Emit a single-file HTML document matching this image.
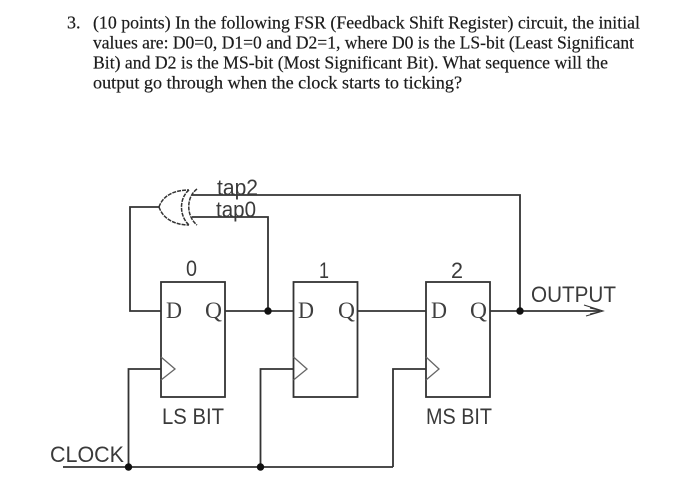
<!DOCTYPE html>
<html><head><meta charset="utf-8"><style>
html,body{margin:0;padding:0;background:#fff}
svg{display:block}
.q{font-family:"Liberation Serif",serif;font-size:18px;fill:#1c1c1c;stroke:#1c1c1c;stroke-width:.2}
.l{font-family:"Liberation Sans",sans-serif;font-size:22px;fill:#3a3a3a}
.s{font-family:"Liberation Serif",serif;font-size:23px;fill:#3f3f3f}
</style></head><body>
<svg width="700" height="482" viewBox="0 0 700 482" xmlns="http://www.w3.org/2000/svg">
<rect width="700" height="482" fill="#fff"/>
<text class="q" x="67" y="28.500">3.</text>
<text class="q" x="93" y="28.500" textLength="547" lengthAdjust="spacingAndGlyphs">(10 points) In the following FSR (Feedback Shift Register) circuit, the initial</text>
<text class="q" x="93" y="48.500" textLength="541" lengthAdjust="spacingAndGlyphs">values are: D0=0, D1=0 and D2=1, where D0 is the LS-bit (Least Significant</text>
<text class="q" x="93" y="68.500" textLength="515" lengthAdjust="spacingAndGlyphs">Bit) and D2 is the MS-bit (Most Significant Bit).  What sequence will the</text>
<text class="q" x="93" y="88.500" textLength="369" lengthAdjust="spacingAndGlyphs">output go through when the clock starts to ticking?</text>

<g fill="none" stroke="#333" stroke-width="1.800">
<rect x="161" y="282" width="64" height="115"/>
<rect x="293.500" y="282" width="64" height="115"/>
<rect x="426" y="282" width="64" height="115"/>
<path d="M161 357L175 369L161 380M293.500 357L307 369L293.500 380M426 357L439 369L426 380" stroke="#666" stroke-width="1.300"/>
<path d="M161 311H130V207H159"/>
<path d="M225 311H293.500M357.500 311H426M490 311H600"/>
<path d="M192 195H520V311M192 217H268V311"/>
<path d="M63 467H393M128.500 467V369H161M260.500 467V369H293.500M393 467V369H426"/>
<path d="M584 305L603 311L586 316M590 308L603 311L590 314" stroke-width="1.100"/>
<path d="M159 207C163 195 175 190 189 190M159 207C163 219 175 225 189 225" stroke-width="1.500" stroke-dasharray="4 1"/>
<path d="M189 190C179 198 179 216 189 225" stroke-width="1.500" stroke-dasharray="4 1"/>
<path d="M197 189C186 197 186 216 197 225" stroke-width="1.500" stroke-dasharray="4 1"/>
</g>
<g fill="#111">
<circle cx="268" cy="311" r="3.700"/>
<circle cx="520" cy="311" r="3.700"/>
<circle cx="128.500" cy="467" r="3.700"/>
<circle cx="260.500" cy="467" r="3.700"/>
</g>
<text class="l" x="217" y="195" textLength="41" lengthAdjust="spacingAndGlyphs">tap2</text>
<text class="l" x="216" y="217" textLength="40" lengthAdjust="spacingAndGlyphs">tap0</text>
<text class="l" x="186" y="276" textLength="11" lengthAdjust="spacingAndGlyphs">0</text>
<text class="l" x="319" y="278" textLength="10" lengthAdjust="spacingAndGlyphs">1</text>
<text class="l" x="451" y="278" textLength="12" lengthAdjust="spacingAndGlyphs">2</text>
<text class="s" x="166" y="318" textLength="16" lengthAdjust="spacingAndGlyphs">D</text>
<text class="s" x="205" y="318" textLength="17" lengthAdjust="spacingAndGlyphs">Q</text>
<text class="s" x="298" y="318" textLength="16" lengthAdjust="spacingAndGlyphs">D</text>
<text class="s" x="338" y="318" textLength="17" lengthAdjust="spacingAndGlyphs">Q</text>
<text class="s" x="431" y="318" textLength="16" lengthAdjust="spacingAndGlyphs">D</text>
<text class="s" x="470" y="318" textLength="17" lengthAdjust="spacingAndGlyphs">Q</text>
<text class="l" x="162" y="424" textLength="62" lengthAdjust="spacingAndGlyphs">LS BIT</text>
<text class="l" x="426" y="424" textLength="66" lengthAdjust="spacingAndGlyphs">MS BIT</text>
<text class="l" x="531" y="302" textLength="85" lengthAdjust="spacingAndGlyphs">OUTPUT</text>
<text class="l" x="50" y="462" textLength="74" lengthAdjust="spacingAndGlyphs">CLOCK</text>
</svg>
</body></html>
